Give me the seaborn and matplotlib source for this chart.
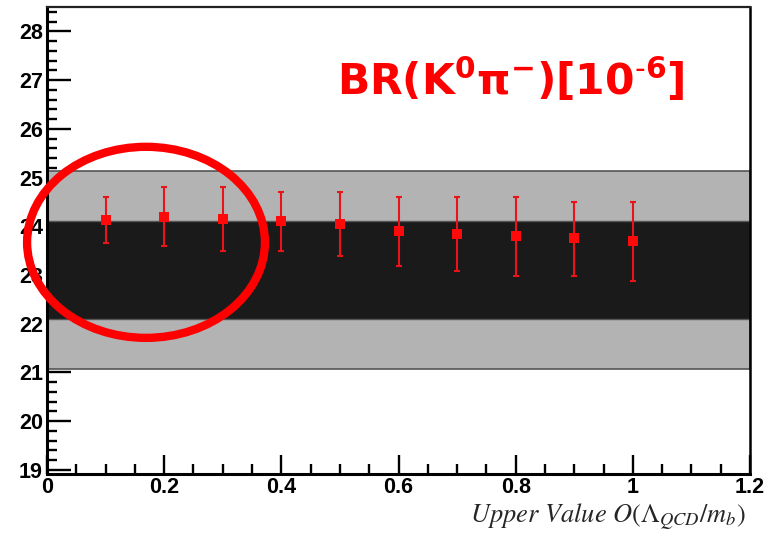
import numpy as np
import pandas as pd
import seaborn as sns
import matplotlib.pyplot as plt
from matplotlib.patches import Ellipse
from matplotlib.ticker import MultipleLocator

# points
lambda_upper = [0.1, 0.2, 0.3, 0.4, 0.5, 0.6, 0.7, 0.8, 0.9, 1.0]
br_value = [24.12, 24.19, 24.15, 24.10, 24.05, 23.90, 23.84, 23.79, 23.75, 23.70]
br_high = [24.60, 24.81, 24.81, 24.70, 24.70, 24.60, 24.60, 24.60, 24.50, 24.50]
br_low = [23.66, 23.59, 23.50, 23.50, 23.38, 23.18, 23.08, 22.97, 22.97, 22.88]

# experimental bands (1 sigma dark, 2 sigma light)
band_outer = [21.07, 25.13]
band_inner = [22.10, 24.10]

x_ticks = [0, 0.2, 0.4, 0.6, 0.8, 1, 1.2]
x_ticklabels = ["0", "0.2", "0.4", "0.6", "0.8", "1", "1.2"]
y_ticks = [19, 20, 21, 22, 23, 24, 25, 26, 27, 28]

title_txt = r"$\mathbf{BR(K^{0}\pi^{-})[10^{\text{-}6}]}$"
xlabel_txt = r"Upper Value $O(\Lambda_{QCD}/m_b)$"

sns.set_style("ticks")
plt.rcParams["font.family"] = ["Liberation Sans", "DejaVu Sans"]

df = pd.DataFrame({"x": lambda_upper, "br": br_value, "hi": br_high, "lo": br_low})

fig = plt.figure(figsize=(7.68, 5.33), dpi=100)
ax = fig.add_axes([0.0612, 0.111, 0.9154, 0.876])

ax.axhspan(band_outer[0], band_outer[1], facecolor="#b3b3b3", edgecolor="#555555", lw=1.2, zorder=1)
ax.axhspan(band_inner[0], band_inner[1], facecolor="#1a1a1a", edgecolor="#555555", lw=1.0, zorder=2)

ax.errorbar(df["x"], df["br"], yerr=[df["br"] - df["lo"], df["hi"] - df["br"]],
            fmt="none", ecolor="#e8141a", elinewidth=1.5, capsize=2.5, capthick=1.5, zorder=3)
sns.scatterplot(data=df, x="x", y="br", marker="s", s=55, color="#ff0a0a",
                edgecolor="#ff0a0a", linewidth=0, ax=ax, zorder=4, legend=False)

ax.add_patch(Ellipse((0.169, 23.67), 0.406, 3.92, fill=False, edgecolor="#ff0000",
                     lw=6, clip_on=False, zorder=5))

ax.set_xlim(0, 1.2)
ax.set_ylim(18.92, 28.5)
ax.set_xticks(x_ticks)
ax.set_xticklabels(x_ticklabels)
ax.set_yticks(y_ticks)
ax.xaxis.set_minor_locator(MultipleLocator(0.05))
ax.yaxis.set_minor_locator(MultipleLocator(0.2))
ax.tick_params(axis="both", which="both", direction="in", color="black",
               labelcolor="black", width=1.7)
ax.tick_params(axis="y", which="major", length=17, labelsize=15.5, pad=3)
ax.tick_params(axis="y", which="minor", length=7)
ax.tick_params(axis="x", which="major", length=14, labelsize=15.5, pad=2)
ax.tick_params(axis="x", which="minor", length=7)
for lab in ax.get_xticklabels() + ax.get_yticklabels():
    lab.set_fontweight("bold")

ax.set_xlabel("")
ax.set_ylabel("")
for side in ["left", "bottom"]:
    ax.spines[side].set_linewidth(2.2)
    ax.spines[side].set_color("black")
ax.spines["right"].set_linewidth(1.8)
ax.spines["right"].set_color("black")
ax.spines["top"].set_linewidth(1.6)
ax.spines["top"].set_color("#222222")

fig.text(0.439, 0.822, title_txt, color="#ff0000", fontsize=30.5, ha="left", va="baseline",
         math_fontfamily="dejavusans")
fig.text(0.971, 0.018, xlabel_txt, fontsize=19, ha="right", va="baseline",
         family="STIXGeneral", style="italic", math_fontfamily="stix")

fig.savefig("out.png", dpi=100)
